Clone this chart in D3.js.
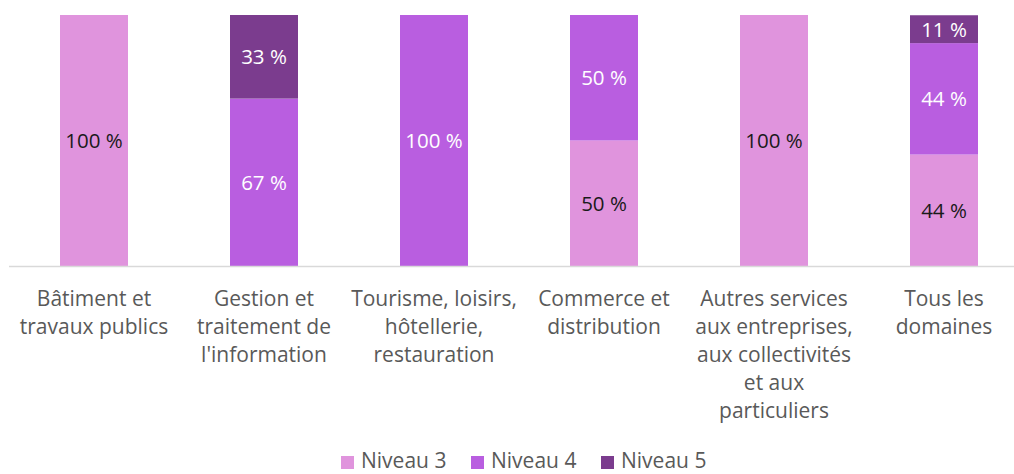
<!DOCTYPE html>
<html>
<head>
<meta charset="utf-8">
<script src="https://cdn.jsdelivr.net/npm/d3@7"></script>
<style>
  body { margin: 0; background: #fff; }
  svg text { font-family: "Open Sans", sans-serif; }
</style>
</head>
<body>
<div id="chart"></div>
<script>
// categories (line breaks as in the original labels)
const categories = [
  "Bâtiment et\ntravaux publics",
  "Gestion et\ntraitement de\nl'information",
  "Tourisme, loisirs,\nhôtellerie,\nrestauration",
  "Commerce et\ndistribution",
  "Autres services\naux entreprises,\naux collectivités\net aux\nparticuliers",
  "Tous les\ndomaines"
]
const seriesNames = ["Niveau 3", "Niveau 4", "Niveau 5"]
const niveau3 = [100, 0, 0, 50, 100, 44.4]
const niveau4 = [0, 66.7, 100, 50, 0, 44.4]
const niveau5 = [0, 33.3, 0, 0, 0, 11.1]
const colors = ["#e094dd", "#b95ee0", "#7b3c8e"]
const labelColors = ["#1a1a1a", "#ffffff", "#ffffff"]

const W = 1014, H = 474
const margin = {top: 15, bottom: 208, left: 9, right: -15}

// build rows for d3.stack
const rows = categories.map((c, i) => ({
  cat: c,
  "Niveau 3": niveau3[i],
  "Niveau 4": niveau4[i],
  "Niveau 5": niveau5[i]
}))
const stacked = d3.stack().keys(seriesNames)(rows)

const svg = d3.select("#chart").append("svg")
  .attr("width", W)
  .attr("height", H)

const x = d3.scaleBand()
  .domain(categories)
  .range([margin.left, W - margin.right])
  .paddingInner(0.6)
  .paddingOuter(0.3)

const y = d3.scaleLinear()
  .domain([0, 100])
  .range([H - margin.bottom, margin.top])

const color = d3.scaleOrdinal().domain(seriesNames).range(colors)

// bars
const layers = svg.selectAll("g.layer").data(stacked)
  .enter().append("g")
  .attr("class", "layer")
  .attr("fill", d => color(d.key))

layers.selectAll("rect")
  .data(d => d.filter(s => s[1] - s[0] > 0))
  .enter().append("rect")
  .attr("x", d => x(d.data.cat))
  .attr("y", d => y(d[1]))
  .attr("width", x.bandwidth())
  .attr("height", d => y(d[0]) - y(d[1]))

// value labels
stacked.forEach((layer, li) => {
  svg.append("g").selectAll("text")
    .data(layer.filter(s => s[1] - s[0] > 0))
    .enter().append("text")
    .attr("x", d => x(d.data.cat) + x.bandwidth() / 2)
    .attr("y", d => (y(d[0]) + y(d[1])) / 2)
    .attr("dy", "0.36em")
    .attr("text-anchor", "middle")
    .attr("font-size", 20.5)
    .attr("fill", labelColors[li])
    .text(d => Math.round(d[1] - d[0]) + " %")
})

// baseline
svg.append("line")
  .attr("x1", margin.left)
  .attr("x2", W)
  .attr("y1", y(0) + 0.5)
  .attr("y2", y(0) + 0.5)
  .attr("stroke", "#d9d9d9")
  .attr("stroke-width", 1.5)

// category labels
const catLabels = svg.append("g").selectAll("text")
  .data(categories)
  .enter().append("text")
  .attr("text-anchor", "middle")
  .attr("font-size", 21)
  .attr("fill", "#595959")
  .attr("x", d => x(d) + x.bandwidth() / 2)
  .attr("y", 306)

catLabels.selectAll("tspan")
  .data(d => d.split("\n").map(t => ({t, c: d})))
  .enter().append("tspan")
  .attr("x", d => x(d.c) + x.bandwidth() / 2)
  .attr("dy", (d, i) => i === 0 ? 0 : 28)
  .text(d => d.t)

// legend (kept just inside the bottom edge)
const legendX = [341, 471, 601]
const legend = svg.append("g").selectAll("g")
  .data(seriesNames)
  .enter().append("g")
  .attr("transform", (d, i) => "translate(" + legendX[i] + ",456)")

legend.append("rect")
  .attr("width", 13)
  .attr("height", 13)
  .attr("fill", d => color(d))

legend.append("text")
  .attr("x", 20)
  .attr("y", 12)
  .attr("font-size", 21)
  .attr("fill", "#595959")
  .text(d => d)
</script>
</body>
</html>
